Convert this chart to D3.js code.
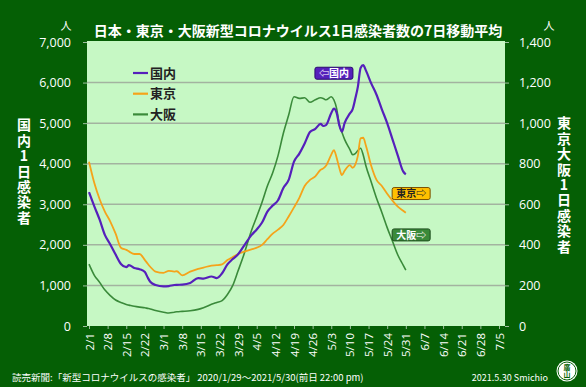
<!DOCTYPE html>
<html>
<head>
<meta charset="utf-8">
<script src="https://cdn.jsdelivr.net/npm/d3@7/dist/d3.min.js"></script>
<style>
  body { margin: 0; background: #055f05; }
  text { font-family: "Noto Sans CJK JP", "Open Sans", sans-serif; }
</style>
</head>
<body>
<div id="chart"></div>
<script>
// 7-day moving average, 2021
var dates = ["2/1","2/3","2/5","2/7","2/9","2/11","2/13","2/15","2/16","2/18","2/20","2/22","2/23","2/24","2/26",
  "3/1","3/3","3/5","3/6","3/8","3/11","3/14","3/16","3/19","3/21","3/23","3/25","3/27","3/29","3/31",
  "4/3","4/5","4/7","4/9","4/11","4/13","4/15","4/17","4/19","4/21","4/23","4/25","4/27","4/29","4/30",
  "5/1","5/3","5/4","5/5","5/6","5/7","5/8","5/10","5/11","5/12","5/13","5/14","5/15","5/16","5/18",
  "5/20","5/22","5/24","5/26","5/28","5/30","5/31"];

var national = [3300,2950,2620,2240,2010,1760,1530,1450,1500,1430,1400,1330,1200,1090,1010,
  975,985,1010,1015,1020,1060,1180,1170,1220,1180,1300,1520,1650,1770,1955,
  2240,2380,2550,2820,2970,3100,3400,3600,4050,4250,4500,4780,4860,4980,4930,
  4950,5250,5360,5260,4950,4790,5000,5240,5340,5600,5900,6360,6430,6300,5980,
  5700,5340,5000,4600,4200,3810,3740];

var tokyo = [810,705,625,563,515,455,386,375,368,355,355,325,308,292,268,
  262,272,268,270,250,268,282,288,298,300,304,325,340,355,365,
  378,386,400,428,455,475,498,540,585,632,690,720,738,770,777,
  790,845,867,830,780,744,765,793,780,795,840,925,928,890,790,
  720,690,652,618,588,568,558];

var osaka = [305,250,215,177,150,128,116,106,103,97,93,90,87,84,76,
  68,64,68,70,72,75,82,90,107,116,125,155,200,272,345,
  470,539,610,690,755,840,950,1040,1130,1122,1125,1103,1115,1125,1122,
  1115,1130,1114,1073,995,955,920,870,845,850,865,876,843,790,710,
  630,560,485,418,350,300,275];

var leftTicks = [0,1000,2000,3000,4000,5000,6000,7000];
var rightTicks = [0,200,400,600,800,1000,1200,1400];
var xTickLabels = ["2/1","2/8","2/15","2/22","3/1","3/8","3/15","3/22","3/29","4/5","4/12","4/19",
  "4/26","5/3","5/10","5/17","5/24","5/31","6/7","6/14","6/21","6/28","7/5"];

var W = 586, H = 387;
var margin = {top: 42, right: 81, bottom: 61, left: 87},
    width = W - margin.left - margin.right,
    height = H - margin.top - margin.bottom;

var parse = function(s) { return d3.timeParse("%Y/%m/%d")("2021/" + s); };

var svg = d3.select("#chart").append("svg")
    .attr("width", W)
    .attr("height", H);

svg.append("rect").attr("width", W).attr("height", H).attr("fill", "#055f05");

var g = svg.append("g")
    .attr("transform", "translate(" + margin.left + "," + margin.top + ")");

var x = d3.scaleTime()
    .domain([parse(xTickLabels[0]), parse(xTickLabels[xTickLabels.length - 1])])
    .range([2, width - 6]);
var yL = d3.scaleLinear().domain([0, 7000]).range([height, 0]);
var yR = d3.scaleLinear().domain([0, 1400]).range([height, 0]);

// plot area
g.append("rect")
    .attr("y", -1)
    .attr("width", width)
    .attr("height", height + 1)
    .attr("fill", "#c6f8c4");

// gridlines
g.append("g")
  .selectAll("line")
  .data(leftTicks.slice(1, -1))
  .enter().append("line")
    .attr("x1", 0).attr("x2", width)
    .attr("y1", function(d) { return yL(d); })
    .attr("y2", function(d) { return yL(d); })
    .attr("stroke", "#a3b3a0")
    .attr("stroke-width", 1.5);

// left axis
g.append("g")
    .attr("class", "y-left")
    .style("font-size", "12.5px")
    .call(d3.axisLeft(yL).tickValues(leftTicks).tickSize(4).tickPadding(12).tickFormat(d3.format(",")))
    .call(function(a) { a.select(".domain").remove(); })
    .call(function(a) { a.selectAll(".tick line").attr("stroke", "#9fbf9f"); })
    .call(function(a) { a.selectAll(".tick text").attr("fill", "#fff").style("font-family", "Open Sans"); });

// right axis
g.append("g")
    .attr("class", "y-right")
    .attr("transform", "translate(" + width + ",0)")
    .style("font-size", "12.5px")
    .call(d3.axisRight(yR).tickValues(rightTicks).tickSize(4).tickPadding(10).tickFormat(d3.format(",")))
    .call(function(a) { a.select(".domain").remove(); })
    .call(function(a) { a.selectAll(".tick line").attr("stroke", "#9fbf9f"); })
    .call(function(a) { a.selectAll(".tick text").attr("fill", "#fff").style("font-family", "Open Sans"); });

// x axis
g.append("g")
    .attr("class", "x-axis")
    .attr("transform", "translate(0," + height + ")")
    .call(d3.axisBottom(x).tickValues(xTickLabels.map(parse)).tickSize(3).tickFormat(d3.timeFormat("%-m/%-d")))
    .call(function(a) { a.select(".domain").remove(); })
    .call(function(a) { a.selectAll(".tick line").attr("stroke", "#9fbf9f"); })
    .selectAll(".tick text")
      .attr("fill", "#fff")
      .style("font-family", "Open Sans")
      .style("font-size", "11.5px")
      .style("text-anchor", "end")
      .attr("transform", "rotate(-90)")
      .attr("x", -7)
      .attr("y", 0)
      .attr("dy", "0.35em");

// lines
var series = [
  {name: "国内", values: national, y: yL, color: "#5520bb", w: 2.2},
  {name: "東京", values: tokyo, y: yR, color: "#f5a31a", w: 1.8},
  {name: "大阪", values: osaka, y: yR, color: "#3a8a3a", w: 1.6}
];

series.slice().reverse().forEach(function(s) {
  var line = d3.line()
      .curve(d3.curveMonotoneX)
      .x(function(d, i) { return x(parse(dates[i])); })
      .y(function(d) { return s.y(d); });
  g.append("path")
      .datum(s.values)
      .attr("fill", "none")
      .attr("stroke", s.color)
      .attr("stroke-width", s.w)
      .attr("stroke-linejoin", "round")
      .attr("d", line);
});

// legend
var legend = g.append("g").attr("transform", "translate(46,31)");
series.forEach(function(s, i) {
  legend.append("line")
      .attr("x1", 0).attr("x2", 15)
      .attr("y1", i * 20.7).attr("y2", i * 20.7)
      .attr("stroke", s.color)
      .attr("stroke-width", 2.2);
  legend.append("text")
      .attr("x", 17)
      .attr("y", i * 20.7)
      .attr("dy", "0.36em")
      .attr("font-size", "13px")
      .attr("font-weight", "bold")
      .attr("fill", "#222")
      .text(s.name);
});

// tags next to the lines
var tags = [
  {text: "⇦国内", date: "5/4", v: 6230, y: yL, fill: "#5520bb", stroke: "#2a0a70", color: "#fff"},
  {text: "東京⇨", date: "6/2", v: 653, y: yR, fill: "#ffc000", stroke: "#7a5000", color: "#222"},
  {text: "大阪⇨", date: "6/2", v: 449, y: yR, fill: "#3a8a3a", stroke: "#1d4d1d", color: "#fff"}
];
tags.forEach(function(t) {
  var cx = x(parse(t.date)), cy = t.y(t.v);
  g.append("rect")
      .attr("x", cx - 19).attr("y", cy - 6)
      .attr("width", 38).attr("height", 12)
      .attr("rx", 2)
      .attr("fill", t.fill)
      .attr("stroke", t.stroke)
      .attr("stroke-width", 1);
  g.append("text")
      .attr("x", cx).attr("y", cy)
      .attr("dy", "0.36em")
      .attr("text-anchor", "middle")
      .attr("font-size", "10px")
      .attr("font-weight", "bold")
      .attr("fill", t.color)
      .text(t.text);
});

// title
svg.append("text")
    .attr("x", 298).attr("y", 36)
    .attr("text-anchor", "middle")
    .attr("font-size", "14px")
    .attr("font-weight", "bold")
    .attr("fill", "#fff")
    .text("日本・東京・大阪新型コロナウイルス1日感染者数の7日移動平均");

// unit labels
[66, 549].forEach(function(px) {
  svg.append("text")
      .attr("x", px).attr("y", 30)
      .attr("text-anchor", "middle")
      .attr("font-size", "11px")
      .attr("fill", "#fff")
      .text("人");
});

// vertical axis titles, one text each, set upright
function vtitle(str, px, py) {
  svg.append("text")
      .attr("x", px)
      .attr("y", py)
      .style("writing-mode", "vertical-rl")
      .style("text-orientation", "upright")
      .style("letter-spacing", "1.4px")
      .attr("font-size", "14px")
      .attr("font-weight", "bold")
      .attr("fill", "#fff")
      .text(str);
}
vtitle("国内1日感染者", 24, 118);
vtitle("東京大阪1日感染者", 564, 116);

// footer
svg.append("text")
    .attr("x", 12).attr("y", 381)
    .attr("font-size", "9.5px")
    .attr("fill", "#fff")
    .text("読売新聞:「新型コロナウイルスの感染者」 2020/1/29～2021/5/30(前日 22:00 pm)");

svg.append("text")
    .attr("x", 548).attr("y", 381)
    .attr("text-anchor", "end")
    .attr("font-size", "9px")
    .attr("font-family", "Open Sans")
    .attr("fill", "#fff")
    .text("2021.5.30  Smichio");

// stamp
var logo = svg.append("g").attr("transform", "translate(567,371)");
logo.append("circle").attr("r", 10.5).attr("fill", "#fff");
logo.append("circle").attr("r", 9).attr("fill", "none").attr("stroke", "#055f05").attr("stroke-width", 1);
logo.append("text")
    .attr("x", 0).attr("y", 0)
    .attr("text-anchor", "middle")
    .style("writing-mode", "vertical-rl")
    .style("text-orientation", "upright")
    .attr("font-size", "7px")
    .attr("font-weight", "bold")
    .attr("fill", "#055f05")
    .text("廣山");
</script>
</body>
</html>
